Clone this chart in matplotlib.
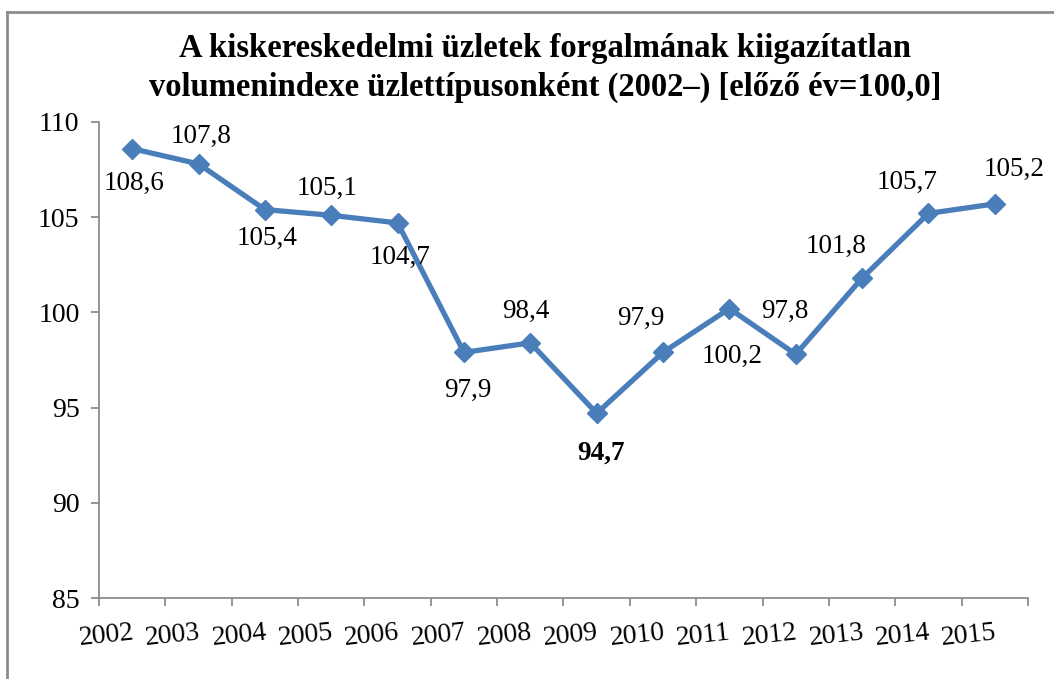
import matplotlib
matplotlib.use("Agg")
import matplotlib.pyplot as plt
from matplotlib.lines import Line2D
import numpy as np

plt.rcParams['font.family'] = ['Liberation Serif', 'DejaVu Serif']

# data
years = ['2002', '2003', '2004', '2005', '2006', '2007', '2008',
         '2009', '2010', '2011', '2012', '2013', '2014', '2015']
values = [108.6, 107.8, 105.4, 105.1, 104.7, 97.9, 98.4,
          94.7, 97.9, 100.2, 97.8, 101.8, 105.2, 105.7]
# labels as printed on the chart (last two are swapped in the original)
labels = ['108,6', '107,8', '105,4', '105,1', '104,7', '97,9', '98,4',
          '94,7', '97,9', '100,2', '97,8', '101,8', '105,7', '105,2']
yticks = [85, 90, 95, 100, 105, 110]

# label offsets in pixels (dx, dy), dy positive = up
offsets = [(2, -35), (3, 27), (2, -29), (-4, 27), (2, -34), (4, -38), (-5, 31),
           (4, -40), (-22, 34), (3, -48), (-11, 43), (-26, 32), (-21, 31), (19, 34)]

blue = '#4A7EBB'
grey = '#8C8C8C'

fig = plt.figure(figsize=(10.54, 6.79), dpi=100)
ax = fig.add_axes([99/1054, 1-598/679, (1028-99)/1054, (598-122)/679])

x = np.arange(len(values))
ax.plot(x, values, color=blue, lw=3.8, marker='D', ms=10.5, mfc=blue, mec=blue,
        solid_joinstyle='miter', zorder=3)

for i, (v, lab) in enumerate(zip(values, labels)):
    dx, dy = offsets[i]
    ax.annotate(lab, (i, v), xytext=(dx, dy), textcoords='offset pixels',
                ha='center', va='center', fontsize=19.5,
                fontweight='bold' if i == 7 else 'normal')

ax.set_xlim(-0.5, len(values) - 0.5)
ax.set_ylim(85, 110)
ax.set_yticks(yticks)
ax.set_yticklabels([str(t) for t in yticks])

# tick marks between categories, year labels sit just right of each mark
ax.set_xticks(np.arange(len(values) + 1) - 0.5, minor=True)
ax.set_xticks(x - 0.5 + 0.11)
ax.set_xticklabels(years, rotation=6, ha='center')

for s in ['top', 'right']:
    ax.spines[s].set_visible(False)
for s in ['left', 'bottom']:
    ax.spines[s].set_color(grey)
    ax.spines[s].set_linewidth(1.3)

ax.tick_params(axis='both', which='both', colors=grey, labelcolor='black',
               labelsize=20, width=1.3, length=6)
ax.tick_params(axis='x', which='major', length=0, pad=16)
ax.tick_params(axis='y', pad=8)

fig.text(545/1054, 1-68/679,
         'A kiskereskedelmi üzletek forgalmának kiigazítatlan\n'
         'volumenindexe üzlettípusonként (2002–) [előző év=100,0]',
         ha='center', va='center', fontsize=23.5, fontweight='bold',
         linespacing=1.3)

# outer frame (top and left edges visible)
fig.add_artist(Line2D([7/1054, 7/1054], [0, 1-12/679], color=grey, lw=2,
                      transform=fig.transFigure))
fig.add_artist(Line2D([7/1054, 1], [1-12/679, 1-12/679], color=grey, lw=2,
                      transform=fig.transFigure))

fig.savefig('out.png', dpi=100, facecolor='white')
